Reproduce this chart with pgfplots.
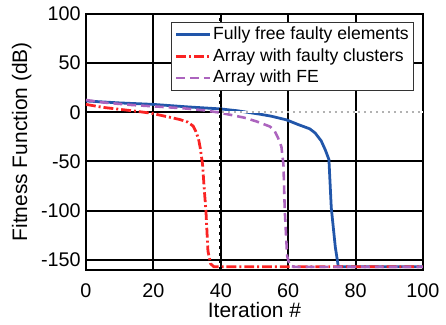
\documentclass[border=0pt]{standalone}
\usepackage{pgfplots}
\pgfplotsset{compat=1.18}
\usepackage{fontspec}
\setmainfont{Liberation Sans}
\definecolor{cblue}{RGB}{33,86,170}
\definecolor{cred}{RGB}{250,35,35}
\definecolor{cpurp}{RGB}{172,100,190}
\begin{document}
\begin{tikzpicture}
\begin{axis}[
  scale only axis,
  width=170.5pt, height=129.5pt,
  xmin=0, xmax=100, ymin=-160, ymax=100,
  xtick={0,20,...,100}, ytick={-150,-100,-50,0,50,100},
  grid=major,
  major grid style={black, line width=1pt},
  axis line style={black, line width=1pt},
  major tick length=0pt,
  tick label style={font=\fontsize{10}{11}\selectfont},
  /pgf/number format/assume math mode=true,
  xticklabel style={yshift=-3.5pt},
  yticklabel style={xshift=0.8pt},
  xlabel={Iteration \#}, ylabel={Fitness Function (dB)},
  label style={font=\fontsize{10.6}{12}\selectfont},
  xlabel style={yshift=4.5pt},
  ylabel style={yshift=-2pt},
  legend style={at={(rel axis cs:0.974,0.97)}, anchor=north east, draw=black!80, line width=0.5pt,
    font=\fontsize{8.9}{11}\selectfont, inner sep=1.5pt, row sep=1pt, cells={anchor=west},
    nodes={inner sep=1pt}},
  legend cell align=left,
  legend image code/.code={\draw[#1] (0pt,0pt) -- (17pt,0pt);},
]
\addplot[cblue, line width=1.4pt] coordinates {
(0,11.5) (5,10.5) (10,9.5) (20,8) (30,5.5) (40,3.4) (45,1.5) (51.7,-2) (55,-4) (59.5,-7.7) (63,-12.5) (66.4,-16.8) (68,-21) (69.8,-29) (71,-38) (72.1,-48) (72.8,-97) (74,-137) (74.9,-157) (80,-157) (100,-157)};
\addlegendentry{Fully free faulty elements}
\addplot[cred, line width=1.4pt, dash pattern=on 5pt off 1.5pt on 1pt off 1.5pt] coordinates {
(0,8) (5,5) (10,3) (15,1) (19.4,-1) (25.3,-5.4) (28,-7.5) (30.2,-10) (31.8,-14) (32.6,-19.5) (33.4,-27) (33.9,-36) (34.6,-53) (35.1,-78) (35.6,-100) (36.2,-141) (37,-154) (38,-157) (60,-157) (100,-157)};
\addlegendentry{Array with faulty clusters}
\addplot[cpurp, line width=1.3pt, dash pattern=on 4.5pt off 2.5pt] coordinates {
(0,12.5) (5,10) (13.5,7.4) (20,6) (29,4) (35,2) (39,0) (43,-2.7) (47,-5.5) (50.7,-9.4) (54.6,-14.5) (56,-19) (57,-26) (58,-35) (58.6,-53) (59,-100) (59.7,-146) (60.5,-156) (62,-157) (100,-157)};
\addlegendentry{Array with FE}
\addplot[black, line width=1.5pt, dotted, forget plot] coordinates {(40,-160) (40,100)};
\addplot[white, line width=1.1pt, forget plot] coordinates {(40.4,0) (100,0)};
\addplot[gray!60, line width=1pt, dotted, forget plot] coordinates {(40.4,0) (100,0)};
\end{axis}
\path ([xshift=-43.5pt,yshift=-26.5pt]current axis.south west) rectangle ([xshift=9pt,yshift=7pt]current axis.north east);
\end{tikzpicture}
\end{document}
